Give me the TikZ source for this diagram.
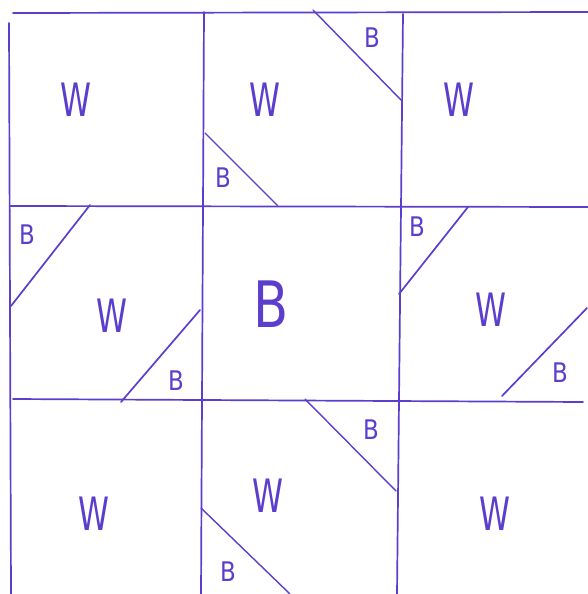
\documentclass[tikz,border=0pt]{standalone}
\usepackage{fontspec}
\setmainfont{DejaVu Sans}
\definecolor{pen}{RGB}{92,62,205}
\begin{document}
\begin{tikzpicture}[x=1pt,y=-1pt,
  ink/.style={draw=pen,line width=1.7pt,line cap=round},
  thin/.style={draw=pen,line width=1.4pt,line cap=round},
  lw/.style={text=pen,font=\fontsize{46}{46}\selectfont,inner sep=0pt,xscale=0.68},
  lb/.style={text=pen,font=\fontsize{27}{27}\selectfont,inner sep=0pt,xscale=0.85},
  lbig/.style={text=pen,font=\fontsize{64}{64}\selectfont,inner sep=0pt,xscale=0.8}]
\useasboundingbox (0,0) rectangle (588,594);
\fill[white] (0,0) rectangle (588,594);
% grid
\draw[ink] (13,13) -- (588,12);
\draw[ink] (10,206) -- (588,207);
\draw[ink] (13,399) -- (583,402);
\draw[ink] (9,23) -- (11,594);
\draw[ink] (204,12) -- (201,594);
\draw[ink] (403,14) -- (397,594);
% diagonals
\draw[thin] (313,10) -- (402,101);
\draw[thin] (205,133) -- (278,206);
\draw[ink] (90,205) -- (11,306);
\draw[ink] (200,310) -- (121,402);
\draw[ink] (468,207) -- (399,294);
\draw[ink] (587,308) -- (502,396);
\draw[thin] (305,399) -- (396,491);
\draw[thin] (201,508) -- (290,594);
% labels
\node[lw] (w1) at (76,100) {W};
\node[lw] (w2) at (265,100) {W};
\node[lw] (w3) at (459,100) {W};
\node[lw] (w4) at (112,316) {W};
\node[lw] (w5) at (491,310) {W};
\node[lw] (w6) at (268,496) {W};
\node[lw] (w7) at (94,514) {W};
\node[lw] (w8) at (495,514) {W};
\node[lbig] (bc) at (271,304) {B};
\node[lb] (b1) at (372,38) {B};
\node[lb] (b2) at (223,178) {B};
\node[lb] (b3) at (27,235) {B};
\node[lb] (b4) at (176,381) {B};
\node[lb] (b5) at (417,227) {B};
\node[lb] (b6) at (560,373) {B};
\node[lb] (b7) at (371,430) {B};
\node[lb] (b8) at (228,572) {B};
\end{tikzpicture}
\end{document}
